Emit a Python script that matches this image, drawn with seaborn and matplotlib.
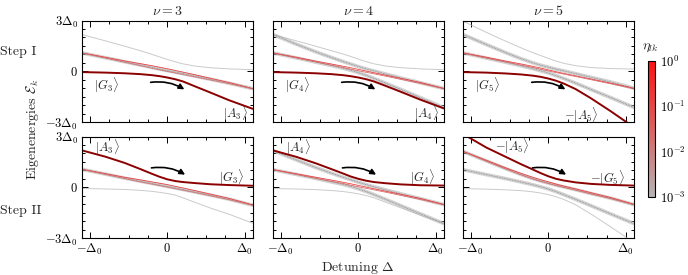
import matplotlib
matplotlib.use("Agg")
import matplotlib.pyplot as plt
import seaborn as sns
from matplotlib.colors import LinearSegmentedColormap, LogNorm
from matplotlib.cm import ScalarMappable
from matplotlib.ticker import FixedLocator, MultipleLocator

# detuning samples (units of Delta_0)
XS = [-1.1, -0.8, -0.55, -0.35, -0.2, -0.1, 0.0, 0.1, 0.2, 0.35, 0.55, 0.8, 1.1]
NUS = [3, 4, 5]

# Step I: followed state (dark red) and its partner (thin grey)
MAIN_I = {
    3: [-0.05, -0.08, -0.12, -0.17, -0.23, -0.29, -0.37, -0.47, -0.60, -0.88, -1.25, -1.72, -2.22],
    4: [-0.05, -0.08, -0.12, -0.17, -0.23, -0.29, -0.37, -0.47, -0.60, -0.86, -1.22, -1.68, -2.19],
    5: [-0.05, -0.08, -0.13, -0.19, -0.26, -0.33, -0.43, -0.56, -0.73, -1.05, -1.60, -2.35, -3.30],
}
PARTNER_I = {
    3: [2.17, 1.80, 1.48, 1.22, 1.00, 0.85, 0.70, 0.56, 0.44, 0.31, 0.21, 0.14, 0.09],
    4: [2.17, 1.80, 1.48, 1.22, 1.02, 0.88, 0.72, 0.57, 0.44, 0.31, 0.21, 0.14, 0.09],
    5: [2.96, 2.30, 1.78, 1.38, 1.10, 0.93, 0.76, 0.60, 0.47, 0.33, 0.22, 0.16, 0.13],
}
# Step II
MAIN_II = {
    3: [2.18, 1.81, 1.44, 1.08, 0.80, 0.62, 0.47, 0.37, 0.31, 0.25, 0.18, 0.13, 0.09],
    4: [2.18, 1.80, 1.42, 1.08, 0.82, 0.64, 0.50, 0.39, 0.31, 0.24, 0.17, 0.12, 0.10],
    5: [3.15, 2.35, 1.80, 1.36, 1.05, 0.84, 0.65, 0.50, 0.40, 0.29, 0.20, 0.14, 0.10],
}
PARTNER_II = {
    3: [-0.07, -0.10, -0.13, -0.18, -0.24, -0.30, -0.37, -0.46, -0.62, -0.88, -1.22, -1.60, -2.12],
    4: [-0.08, -0.10, -0.14, -0.19, -0.25, -0.31, -0.39, -0.49, -0.62, -0.88, -1.22, -1.65, -2.14],
    5: [-0.08, -0.11, -0.15, -0.20, -0.27, -0.34, -0.43, -0.56, -0.72, -1.03, -1.58, -2.33, -3.25],
}

# grey bundles of nearly degenerate states (eta ~ 1e-3)
BANDS_I = {
    3: [[1.08, 0.80, 0.56, 0.37, 0.23, 0.13, 0.04, -0.05, -0.14, -0.28, -0.47, -0.71, -1.03]],
    4: [[2.17, 1.60, 1.15, 0.82, 0.58, 0.43, 0.28, 0.14, 0.02, -0.16, -0.40, -0.68, -1.02],
        [1.08, 0.79, 0.54, 0.34, 0.18, 0.06, -0.08, -0.24, -0.42, -0.70, -1.08, -1.56, -2.15]],
    5: [[2.17, 1.58, 1.10, 0.74, 0.50, 0.36, 0.24, 0.12, 0.02, -0.14, -0.36, -0.63, -1.00],
        [1.08, 0.78, 0.53, 0.32, 0.15, 0.03, -0.10, -0.26, -0.43, -0.70, -1.08, -1.55, -2.13]],
}
BANDS_II = {
    3: [[1.06, 0.78, 0.54, 0.36, 0.23, 0.14, 0.05, -0.04, -0.13, -0.27, -0.46, -0.71, -1.06]],
    4: [[2.17, 1.62, 1.17, 0.84, 0.60, 0.45, 0.30, 0.16, 0.03, -0.15, -0.39, -0.67, -1.02],
        [1.04, 0.76, 0.52, 0.32, 0.17, 0.05, -0.09, -0.25, -0.43, -0.71, -1.09, -1.57, -2.14]],
    5: [[2.12, 1.56, 1.10, 0.75, 0.51, 0.37, 0.25, 0.13, 0.02, -0.14, -0.37, -0.64, -1.02],
        [1.04, 0.75, 0.51, 0.31, 0.15, 0.03, -0.10, -0.26, -0.44, -0.71, -1.09, -1.57, -2.14]],
}

# coloured states inside the bundles: (energies, eta)
REDS_I = {
    3: [([1.09, 0.83, 0.61, 0.45, 0.33, 0.24, 0.15, 0.05, -0.05, -0.20, -0.41, -0.67, -1.02], 0.2),
        ([1.07, 0.78, 0.53, 0.33, 0.18, 0.08, -0.01, -0.10, -0.19, -0.33, -0.51, -0.74, -1.04], 0.02)],
    4: [([1.09, 0.83, 0.60, 0.43, 0.30, 0.21, 0.11, 0.01, -0.09, -0.23, -0.42, -0.66, -1.01], 0.2),
        ([1.07, 0.79, 0.55, 0.36, 0.22, 0.12, 0.03, -0.06, -0.15, -0.29, -0.48, -0.72, -1.03], 0.03)],
    5: [([1.09, 0.83, 0.60, 0.43, 0.29, 0.19, 0.08, -0.03, -0.13, -0.27, -0.46, -0.70, -1.00], 0.2),
        ([1.07, 0.78, 0.55, 0.36, 0.22, 0.12, 0.02, -0.08, -0.17, -0.31, -0.50, -0.74, -1.03], 0.03)],
}
REDS_II = {
    3: [([1.07, 0.81, 0.59, 0.44, 0.32, 0.24, 0.16, 0.06, -0.04, -0.19, -0.40, -0.66, -1.04], 0.2),
        ([1.05, 0.76, 0.51, 0.32, 0.19, 0.10, 0.01, -0.08, -0.17, -0.31, -0.50, -0.74, -1.07], 0.02)],
    4: [([1.05, 0.80, 0.59, 0.43, 0.30, 0.21, 0.11, 0.01, -0.09, -0.23, -0.42, -0.66, -1.01], 0.2),
        ([1.03, 0.76, 0.53, 0.35, 0.22, 0.12, 0.03, -0.06, -0.15, -0.29, -0.48, -0.72, -1.04], 0.03)],
    5: [([2.13, 1.60, 1.15, 0.82, 0.59, 0.45, 0.32, 0.19, 0.07, -0.09, -0.32, -0.60, -1.00], 0.2),
        ([2.11, 1.54, 1.08, 0.73, 0.49, 0.35, 0.22, 0.10, -0.01, -0.17, -0.40, -0.67, -1.03], 0.03)],
}

# state labels: (text, x, y, ha)
LABELS_I = {
    3: [(r"$|G_3\rangle$", -0.95, -0.8, "left"), (r"$|A_3\rangle$", 1.04, -2.45, "right")],
    4: [(r"$|G_4\rangle$", -0.95, -0.8, "left"), (r"$|A_4\rangle$", 1.04, -2.45, "right")],
    5: [(r"$|G_5\rangle$", -0.95, -0.8, "left"), (r"$-|A_5\rangle$", 0.65, -2.6, "right")],
}
LABELS_II = {
    3: [(r"$|A_3\rangle$", -0.93, 2.35, "left"), (r"$|G_3\rangle$", 0.99, 0.6, "right")],
    4: [(r"$|A_4\rangle$", -0.93, 2.35, "left"), (r"$|G_4\rangle$", 0.99, 0.6, "right")],
    5: [(r"$-|A_5\rangle$", -0.69, 2.45, "left"), (r"$-|G_5\rangle$", 0.99, 0.55, "right")],
}
ARROW_I = ((-0.25, -0.68), (0.25, -1.16))
ARROW_II = ((-0.24, 1.12), (0.26, 0.66))

sns.set_theme(style="ticks")
plt.rcParams.update({
    "font.family": ["cmr10", "DejaVu Serif"],
    "mathtext.fontset": "cm",
    "axes.formatter.use_mathtext": True,
    "axes.unicode_minus": False,
    "font.size": 9,
    "axes.edgecolor": "black",
    "axes.linewidth": 0.8,
    "xtick.color": "black",
    "ytick.color": "black",
})

cmap = LinearSegmentedColormap.from_list("eta", ["#b4b4b4", "#ff1010"])
norm = LogNorm(1e-3, 1)

fig = plt.figure(figsize=(6.88, 2.75), dpi=100)
lefts = [0.1192, 0.3968, 0.673]
bottoms = [0.5564, 0.1345]
w, h = 0.248, 0.369

steps = [(MAIN_I, PARTNER_I, BANDS_I, REDS_I, LABELS_I, ARROW_I),
         (MAIN_II, PARTNER_II, BANDS_II, REDS_II, LABELS_II, ARROW_II)]

for r, (mains, partners, bands, reds, labels, arrow) in enumerate(steps):
    for c, nu in enumerate(NUS):
        ax = fig.add_axes([lefts[c], bottoms[r], w, h])
        grey = cmap(norm(1e-3))
        sns.lineplot(x=XS, y=partners[nu], ax=ax, color=grey, lw=0.7, alpha=0.7)
        for band in bands[nu]:
            sns.lineplot(x=XS, y=band, ax=ax, color=grey, lw=2.6, alpha=0.6)
            sns.lineplot(x=XS, y=band, ax=ax, color="#7a7a7a", lw=0.5,
                         linestyle=(0, (1.2, 1.2)))
        for ys, eta in reds[nu]:
            sns.lineplot(x=XS, y=ys, ax=ax, color=cmap(norm(eta)), lw=0.55)
        sns.lineplot(x=XS, y=mains[nu], ax=ax, color="#8b0000", lw=1.4)

        for txt, tx, ty, ha in labels[nu]:
            ax.text(tx, ty, txt, ha=ha, va="center", fontsize=9)
        ax.annotate("", xy=arrow[1], xytext=arrow[0],
                    arrowprops=dict(arrowstyle="-|>", color="black", lw=1.2,
                                    mutation_scale=8,
                                    connectionstyle="arc3,rad=-0.2"))

        ax.set_xlim(-1.1, 1.1)
        ax.set_ylim(-3, 3)
        ax.xaxis.set_major_locator(FixedLocator([-1, 0, 1]))
        ax.xaxis.set_minor_locator(MultipleLocator(0.25))
        ax.yaxis.set_major_locator(FixedLocator([-3, 0, 3]))
        ax.yaxis.set_minor_locator(MultipleLocator(0.5))
        ax.tick_params(which="both", direction="in", top=True, right=True,
                       width=0.7, labelsize=9, pad=3)
        ax.tick_params(which="major", length=4)
        ax.tick_params(which="minor", length=2)
        if c == 0:
            ax.set_yticklabels([r"$-3\Delta_0$", r"$0$", r"$3\Delta_0$"])
        else:
            ax.set_yticklabels([])
        if r == 1:
            ax.set_xticklabels([r"$-\Delta_0$", r"$0$", r"$\Delta_0$"])
        else:
            ax.set_xticklabels([])
            ax.set_title(rf"$\nu={nu}$", fontsize=10, pad=4)
        ax.set_xlabel("")
        ax.set_ylabel("")
        if r == 1 and c == 1:
            ax.set_xlabel(r"Detuning $\Delta$", fontsize=10, labelpad=2)

fig.text(0.0, 0.81, "Step I", fontsize=10, va="center", ha="left")
fig.text(0.0, 0.233, "Step II", fontsize=10, va="center", ha="left")
fig.text(0.047, 0.53, r"Eigenenergies $\mathcal{E}_k$", fontsize=10,
         rotation=90, va="center", ha="center")

cax = fig.add_axes([0.9419, 0.2836, 0.0102, 0.4945])
cb = fig.colorbar(ScalarMappable(norm=norm, cmap=cmap), cax=cax)
cb.outline.set_linewidth(0.8)
cax.tick_params(which="both", direction="in", width=0.6, labelsize=9)
cax.tick_params(which="major", length=4)
cax.tick_params(which="minor", length=2)
fig.text(0.945, 0.825, r"$\eta_{lk}$", fontsize=10, ha="center", va="center")

fig.savefig("out.png", dpi=100)
